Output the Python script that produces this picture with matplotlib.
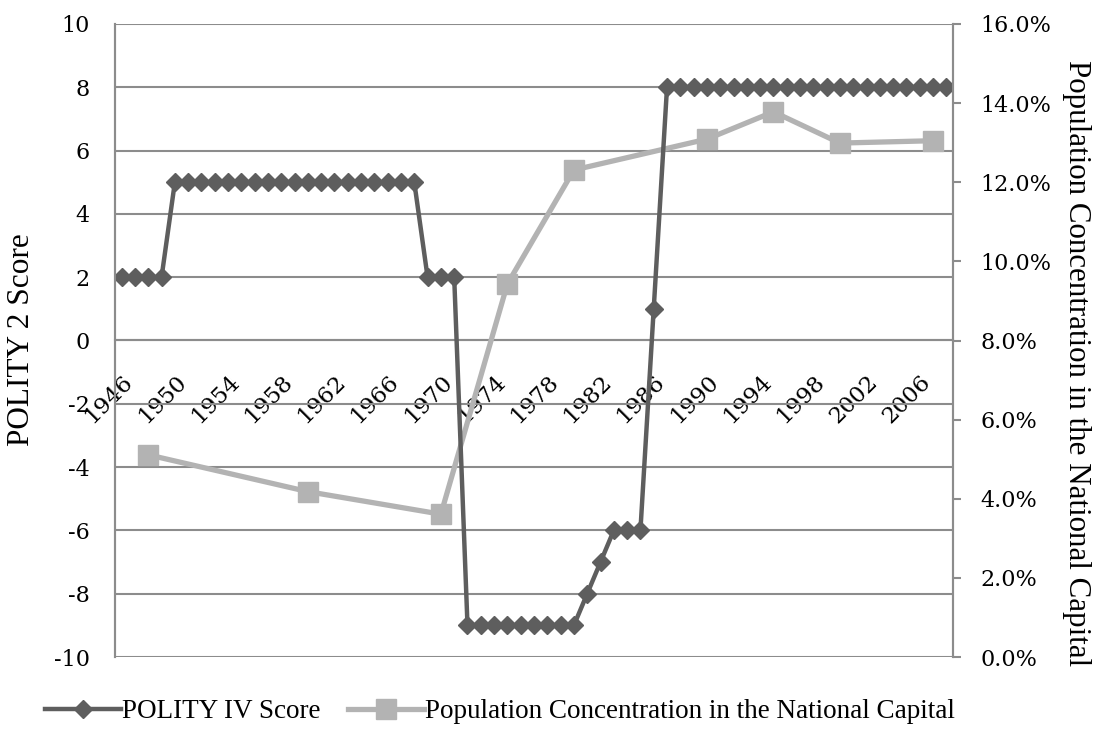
import numpy as np
import matplotlib.pyplot as plt
import matplotlib.transforms as mtransforms
from matplotlib.ticker import PercentFormatter

# data ---------------------------------------------------------

years = np.arange(1946, 2009)
polity = [2, 2, 2, 2,
          5, 5, 5, 5, 5, 5, 5, 5, 5, 5, 5, 5, 5, 5, 5, 5, 5, 5, 5,
          2, 2, 2,
          -9, -9, -9, -9, -9, -9, -9, -9, -9,
          -8, -7, -6, -6, -6, 1,
          8, 8, 8, 8, 8, 8, 8, 8, 8, 8, 8, 8, 8, 8, 8, 8, 8, 8, 8, 8, 8, 8]

pop_years = [1948, 1960, 1970, 1975, 1980, 1990, 1995, 2000, 2007]
pop_share = [0.0511, 0.0418, 0.0361, 0.0943, 0.1231, 0.1309, 0.1378, 0.1299, 0.1305]

xtick_years = list(range(1946, 2007, 4))

polity_name = 'POLITY IV Score'
pop_name = 'Population Concentration in the National Capital'

# style --------------------------------------------------------

dark = '#5e5e5e'
light = '#b3b3b3'
grid_col = '#8c8c8c'
tick_font = 'DejaVu Serif'
title_font = 'Liberation Serif'

plt.rcParams['font.family'] = tick_font

fig = plt.figure(figsize=(10.96, 7.42), dpi=100)
ax = fig.add_axes([115 / 1096, 1 - 657 / 742, (953 - 115) / 1096, (657 - 24) / 742])
ax2 = ax.twinx()

# spine positions first (set_position resets the ticks)
ax.spines['top'].set_visible(False)
ax2.spines['top'].set_visible(False)
ax.spines['bottom'].set_position(('data', 0))
ax.spines['bottom'].set_color(grid_col)
ax.spines['bottom'].set_linewidth(1.5)
ax2.spines['bottom'].set_visible(False)
for a in (ax, ax2):
    a.spines['left'].set_color(grid_col)
    a.spines['right'].set_color(grid_col)
    a.spines['left'].set_linewidth(1.5)
    a.spines['right'].set_linewidth(1.5)

# population line lives in ax (so it sits under the polity line) but uses ax2's y scale
trans = mtransforms.blended_transform_factory(ax.transData, ax2.transData)
l2, = ax.plot(pop_years, pop_share, transform=trans, color=light, lw=3.8,
              marker='s', markersize=14, zorder=3, label=pop_name)
l1, = ax.plot(years, polity, color=dark, lw=3.2, marker='D', markersize=9.5,
              zorder=4, label=polity_name)

ax.set_xlim(1945.5, 2008.5)
ax.set_ylim(-10, 10)
ax2.set_ylim(0, 0.16)
ax.autoscale(False)

ax.set_yticks(np.arange(-10, 11, 2))
ax.set_yticklabels([str(v) for v in range(-10, 11, 2)])
ax2.set_yticks(np.arange(0, 0.161, 0.02))
ax2.yaxis.set_major_formatter(PercentFormatter(xmax=1, decimals=1))

ax.yaxis.grid(True, color=grid_col, lw=1.5)
ax.set_axisbelow(True)

ax.tick_params(axis='x', length=0, pad=22)
ax.tick_params(axis='y', length=0, pad=18, labelsize=16)
ax2.tick_params(axis='y', length=6, width=1.5, color=grid_col, pad=14, labelsize=16)

ax.set_xticks(xtick_years)
ax.set_xticklabels([str(y) for y in xtick_years], fontsize=16.5)
for lbl in ax.get_xticklabels():
    lbl.set_rotation(45)
    lbl.set_ha('right')
    lbl.set_va('top')
    lbl.set_rotation_mode('anchor')

fig.text(22 / 1096, 1 - 340 / 742, 'POLITY 2 Score', rotation=90, ha='center',
         va='center', family=title_font, fontsize=22.5)
fig.text(1076 / 1096, 1 - 363 / 742, pop_name, rotation=270, ha='center',
         va='center', family=title_font, fontsize=22.3)

fig.legend(handles=[l1, l2], loc='center', bbox_to_anchor=(500 / 1096, 1 - 712 / 742),
           ncol=2, frameon=False, prop={'family': title_font, 'size': 19.5},
           handlelength=2.8, handletextpad=0.05, columnspacing=1.0, borderaxespad=0)

fig.savefig('out.png', dpi=100)
